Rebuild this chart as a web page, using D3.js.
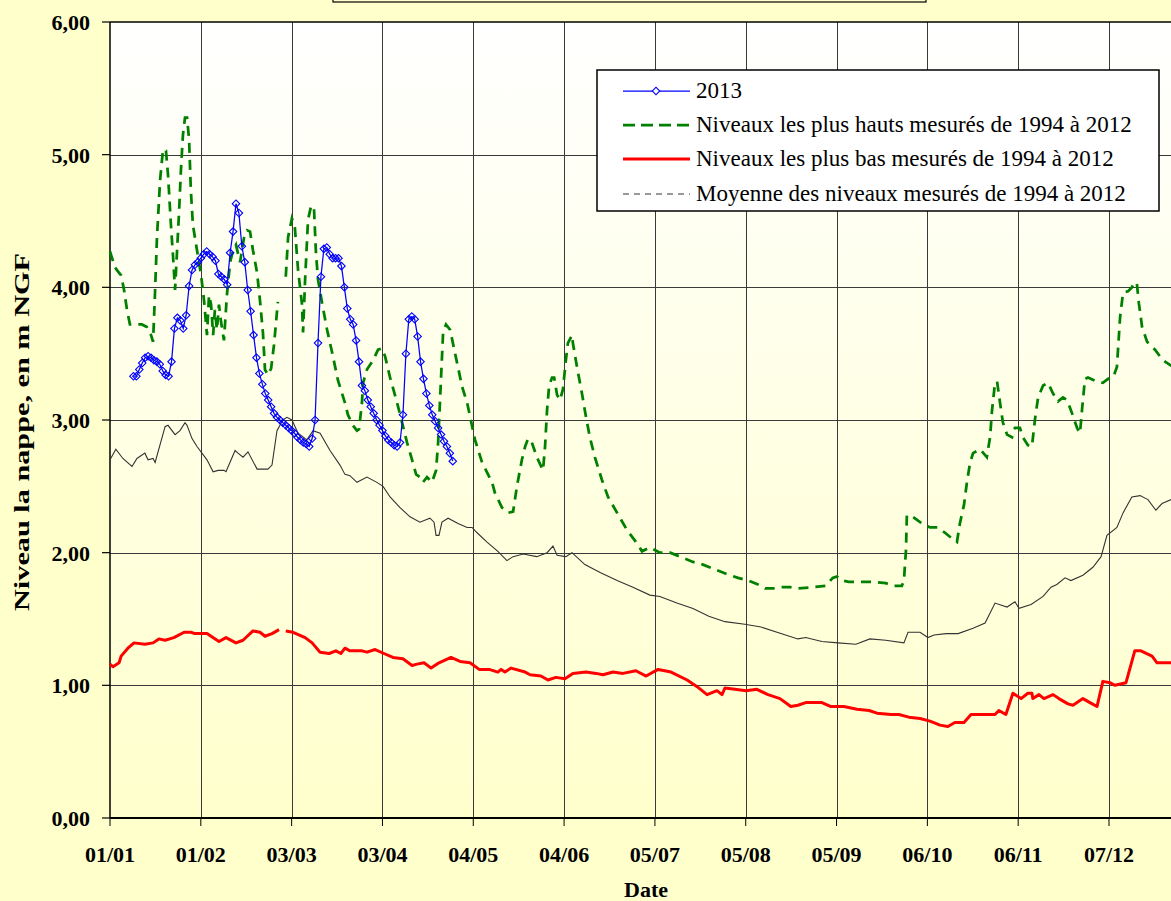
<!DOCTYPE html>
<html>
<head>
<meta charset="utf-8">
<script src="https://cdn.jsdelivr.net/npm/d3@7"></script>
<style>
  html, body { margin: 0; padding: 0; background: #FFFFCC; }
  svg { display: block; }
</style>
</head>
<body>
<svg id="chart" width="1171" height="901"></svg>
<script>
// Axis: days since 1 January of a leap year, major unit 31 days
const tickDays   = [0, 31, 62, 93, 124, 155, 186, 217, 248, 279, 310, 341];
const tickLabels = ["01/01", "01/02", "03/03", "03/04", "04/05", "04/06", "05/07", "05/08", "05/09", "06/10", "06/11", "07/12"];
const yTicks = [0, 1, 2, 3, 4, 5, 6];

const seriesNames = [
  "2013",
  "Niveaux les plus hauts mesurés de 1994 à 2012",
  "Niveaux les plus bas mesurés de 1994 à 2012",
  "Moyenne des niveaux mesurés de 1994 à 2012"
];

// 2013: one value per day, starting on day 8
const start2013 = 8;
const values2013 = [
  3.33, 3.33, 3.38, 3.43, 3.47, 3.48, 3.47, 3.45, 3.44, 3.42, 3.37, 3.34, 3.33, 3.44, 3.69, 3.77,
  3.75, 3.69, 3.79, 4.01, 4.13, 4.17, 4.19, 4.22, 4.25, 4.27, 4.25, 4.23, 4.20, 4.10, 4.08, 4.06,
  4.02, 4.26, 4.42, 4.63, 4.56, 4.31, 4.19, 3.98, 3.82, 3.64, 3.47, 3.35, 3.27, 3.20, 3.15, 3.10,
  3.05, 3.02, 3.00, 2.98, 2.96, 2.94, 2.92, 2.90, 2.87, 2.85, 2.83, 2.82, 2.80, 2.86, 3.00, 3.58,
  4.08, 4.29, 4.30, 4.25, 4.22, 4.22, 4.22, 4.16, 4.00, 3.84, 3.76, 3.72, 3.60, 3.44, 3.26, 3.22,
  3.15, 3.10, 3.05, 3.00, 2.96, 2.92, 2.88, 2.85, 2.83, 2.81, 2.80, 2.83, 3.04, 3.50, 3.76, 3.78,
  3.76, 3.63, 3.44, 3.31, 3.20, 3.11, 3.04, 2.99, 2.94, 2.89, 2.84, 2.80, 2.75, 2.69
];

// [day, level] ; null = no value (29 February)
const highs = [
  [0,4.27],[1.7,4.15],[2.7,4.12],[3.8,4.09],[4.8,3.98],[5.8,3.83],[6.8,3.72],[10.9,3.72],[12.6,3.70],[14,3.64],
  [14.7,3.59],[15.4,3.98],[16,4.36],[17.1,4.81],[18.1,5.04],[19.1,5.03],[19.8,4.85],[20.8,4.47],[21.5,4.24],[22.2,3.98],
  [22.9,4.28],[23.6,4.58],[24.2,4.88],[24.9,5.15],[25.6,5.28],[26.3,5.28],[27,5.11],[27.6,4.73],[28.3,4.47],[29.7,4.28],
  [31.1,4.09],[32.1,3.90],[33.1,3.64],[33.8,3.94],[34.5,3.87],[35.2,3.64],[35.8,3.83],[36.5,3.68],[37.2,3.87],[37.9,3.74],
  [38.9,3.60],[39.9,3.94],[41,4.19],[42,4.28],[43,4.32],[44.4,4.19],[45.7,4.37],[46.8,4.43],[47.8,4.42],[48.8,4.28],
  [50.2,4.11],[51.2,3.90],[52.2,3.66],[52.9,3.38],[53.9,3.34],[55,3.39],[56,3.57],[57.3,3.89],[59,null],[60,4.08],
  [60.8,4.38],[62.1,4.52],[63.1,4.45],[64.2,4.13],[65.5,3.88],[65.9,3.66],[66.6,4.06],[67.6,4.51],[68.6,4.61],[69.6,4.61],
  [70.3,4.26],[71,4.06],[72.4,3.88],[74.1,3.68],[76.1,3.48],[77.8,3.30],[80.2,3.13],[81.2,3.04],[82.9,2.96],[84.3,2.92],
  [85,2.93],[86,3.13],[86.4,3.28],[87.7,3.38],[89.8,3.45],[91.5,3.53],[92.8,3.54],[93.9,3.48],[95.6,3.32],[98,3.13],
  [99.7,2.98],[101.4,2.83],[103.1,2.70],[104.5,2.59],[105.8,2.57],[106.8,2.53],[108.2,2.57],[109.9,2.53],[111.3,2.62],[112,2.83],
  [113,3.32],[113.7,3.66],[114.7,3.72],[116.1,3.68],[117.8,3.50],[120.2,3.25],[121.9,3.13],[124.6,2.85],[127,2.68],[130.4,2.53],
  [131.4,2.45],[133.8,2.34],[135.9,2.30],[137.6,2.31],[138.9,2.50],[140.6,2.70],[141.7,2.80],[142.7,2.86],[144,2.83],[145.7,2.72],
  [147.8,2.62],[148.5,2.80],[149.2,3.08],[149.9,3.26],[150.9,3.32],[151.6,3.32],[152.6,3.19],[153.6,3.15],[154.6,3.23],[155.6,3.45],
  [156.3,3.58],[157.7,3.64],[158,3.58],[159.4,3.40],[161.1,3.20],[162.5,3.02],[163.8,2.87],[165.5,2.72],[167.9,2.55],[170,2.42],
  [173.1,2.30],[176.5,2.17],[179.9,2.07],[181.6,2.01],[184.3,2.04],[187.7,2.00],[191.2,2.00],[194.6,1.97],[199,1.93],[202.4,1.91],
  [205.8,1.88],[209.2,1.85],[211.6,1.83],[214.4,1.81],[217.8,1.79],[221.2,1.76],[223.6,1.73],[226.3,1.73],[228.7,1.74],[232.1,1.74],
  [234.8,1.73],[240,1.74],[244.3,1.75],[246.7,1.81],[248.1,1.82],[249.8,1.79],[252.2,1.78],[256.3,1.78],[259.7,1.78],[264.8,1.77],
  [267.5,1.75],[270.3,1.75],[271,1.79],[271.7,2.02],[272,2.28],[273.4,2.28],[276.5,2.23],[279.9,2.19],[282.6,2.19],[285,2.15],
  [288.4,2.09],[289.1,2.08],[290.1,2.22],[291.5,2.36],[292.5,2.53],[293.6,2.68],[294.6,2.75],[297,2.78],[299.3,2.72],[300.4,2.87],
  [301.1,3.08],[302.1,3.28],[302.8,3.29],[303.8,3.13],[304.8,2.98],[306.2,2.89],[307.9,2.87],[308.9,2.94],[310.6,2.94],[311.6,2.87],
  [313.3,2.81],[314.7,2.80],[315.7,3.00],[316.8,3.17],[318.5,3.26],[320.2,3.28],[321.9,3.20],[323.6,3.14],[325.3,3.17],[326.7,3.15],
  [328.4,3.05],[330.1,2.94],[331.1,2.90],[331.8,3.08],[332.8,3.31],[333.8,3.32],[336.9,3.29],[338.9,3.28],[340.7,3.31],[342.4,3.32],
  [343.7,3.40],[344.8,3.78],[345.8,3.96],[347.5,3.97],[348.8,4.00],[349.9,4.04],[350.5,4.03],[351.2,3.88],[352.3,3.70],[354,3.59],
  [356.7,3.53],[359.4,3.45],[362.2,3.41],[365.9,3.36]
];

const lows = [
  [0,1.16],[1,1.14],[3.1,1.17],[3.8,1.22],[6.1,1.28],[8.2,1.32],[11.9,1.31],[14.7,1.32],[16.7,1.35],[18.8,1.34],
  [21.8,1.36],[25.3,1.40],[27.6,1.40],[29,1.39],[33.1,1.39],[37.2,1.33],[39.6,1.36],[43,1.32],[45.4,1.34],[48.8,1.41],
  [51.2,1.40],[52.9,1.37],[55.3,1.39],[57.7,1.42],[59,null],[60,1.41],[62.5,1.40],[66.6,1.36],[69,1.32],[71.7,1.25],
  [74.8,1.24],[77.1,1.26],[78.8,1.24],[80.2,1.28],[81.9,1.26],[86,1.26],[87.7,1.25],[90.5,1.27],[93.5,1.24],[96.6,1.21],
  [100,1.20],[103.1,1.15],[104.8,1.16],[107.2,1.17],[109.6,1.13],[112.3,1.17],[116.4,1.21],[119.5,1.18],[122.9,1.17],[126,1.12],
  [129.4,1.12],[132.4,1.10],[133.5,1.12],[134.8,1.10],[136.9,1.13],[141.7,1.10],[143.4,1.08],[147.1,1.07],[149.5,1.04],[152.2,1.06],
  [155.3,1.05],[158,1.09],[162.5,1.10],[165.9,1.09],[168.3,1.08],[171.7,1.10],[175.1,1.09],[179.5,1.11],[183,1.07],[187.1,1.12],
  [191.5,1.10],[197,1.04],[200.4,0.99],[203.8,0.93],[207.2,0.96],[208.9,0.93],[209.9,0.98],[213.3,0.97],[217.1,0.96],[220.8,0.97],
  [224.6,0.93],[228.7,0.90],[232.4,0.84],[234.8,0.85],[237.5,0.87],[243,0.87],[246.1,0.84],[250.5,0.84],[255,0.82],[259.1,0.81],
  [261.8,0.79],[266.6,0.78],[269.3,0.78],[272.7,0.76],[276.5,0.75],[279.9,0.73],[283.3,0.70],[286,0.69],[288.4,0.72],[291.5,0.72],
  [293.9,0.78],[302.1,0.78],[303.4,0.81],[305.8,0.78],[308.2,0.94],[311,0.90],[313.3,0.94],[314.7,0.94],[315,0.90],[317.1,0.93],
  [318.8,0.90],[321.9,0.93],[323.9,0.90],[327,0.86],[328.7,0.85],[332.1,0.90],[334.5,0.87],[336.9,0.84],[338.9,1.03],[341.3,1.02],
  [343,1.00],[346.8,1.02],[349.8,1.26],[351.9,1.26],[355.7,1.22],[357.4,1.17],[362.2,1.17],[365.9,1.17]
];

const means = [
  [0,2.70],[2,2.78],[4.4,2.71],[7.5,2.65],[9.2,2.71],[11.9,2.75],[13,2.70],[14.7,2.71],[15.4,2.68],[18.8,2.95],
  [19.8,2.96],[22.2,2.89],[23.9,2.92],[25.6,2.98],[26.3,2.96],[28,2.86],[29.7,2.80],[33.1,2.70],[35.2,2.61],[36.9,2.62],
  [38.9,2.62],[39.6,2.61],[42.7,2.77],[43.7,2.75],[45.4,2.72],[47.1,2.76],[50.2,2.63],[53.9,2.63],[55.3,2.66],[57,2.92],
  [59,3.00],[60.4,3.02],[62.1,3.00],[64.2,2.90],[67.2,2.85],[69.3,2.92],[71.7,2.90],[75.1,2.77],[78.5,2.66],[80.2,2.59],
  [81.9,2.58],[84.3,2.53],[87.7,2.57],[91.1,2.53],[93.2,2.50],[95.6,2.42],[99,2.34],[102.4,2.27],[105.8,2.23],[109.2,2.26],
  [110.6,2.23],[111.3,2.13],[112.3,2.13],[113.3,2.23],[115.4,2.26],[118.8,2.22],[121.9,2.19],[123.6,2.19],[125.3,2.15],[128.7,2.08],
  [132.4,2.01],[135.5,1.94],[137.6,1.97],[141,1.99],[145.7,1.97],[149.2,2.00],[151.2,2.05],[152.6,1.98],[155.6,1.97],[157.7,2.00],
  [162.1,1.91],[167.3,1.85],[173.1,1.79],[178.5,1.74],[184.3,1.68],[187.7,1.67],[193.5,1.62],[199,1.58],[204.4,1.52],[209.9,1.48],
  [216.7,1.46],[222.2,1.44],[229,1.39],[234.8,1.35],[237.5,1.36],[243,1.33],[248.5,1.32],[254.6,1.31],[259.4,1.35],[264.8,1.34],
  [271,1.32],[272.4,1.40],[276.5,1.40],[279.2,1.36],[281.3,1.38],[285.4,1.39],[289.5,1.39],[294.6,1.43],[298.7,1.47],[302.1,1.62],
  [306.2,1.59],[308.9,1.63],[310.3,1.58],[314.4,1.61],[318.5,1.67],[321.2,1.74],[323.2,1.76],[326,1.81],[328,1.79],[332.1,1.83],
  [335.5,1.89],[338.3,1.97],[340.3,2.13],[343.7,2.19],[345.8,2.30],[348.8,2.42],[351.6,2.43],[354.3,2.40],[357,2.32],[359.1,2.37],
  [362.2,2.40],[365.9,2.42]
];

const W = 1171, H = 901;
const pLeft = 110, pTop = 22, pBottom = 818;
const serif = '"Liberation Serif", "Times New Roman", serif';

const svg = d3.select('#chart');

// x: day of year; axis extends past the right edge of the picture
const x = d3.scaleLinear().domain([0, 366]).range([pLeft, pLeft + 366 * 999 / 341]);
const y = d3.scaleLinear().domain([0, 6]).range([pBottom, pTop]);
const fr = d3.formatLocale({ decimal: ',', thousands: ' ', grouping: [3], currency: ['', ' €'] });
const fmtY = fr.format('.2f');

// background gradient of the plot area
const defs = svg.append('defs');
const grad = defs.append('linearGradient').attr('id', 'bg').attr('x1', 0).attr('y1', 0).attr('x2', 0).attr('y2', 1);
grad.append('stop').attr('offset', '0%').attr('stop-color', '#FFFFFF');
grad.append('stop').attr('offset', '100%').attr('stop-color', '#FFFFCC');

svg.append('rect').attr('width', W).attr('height', H).attr('fill', '#FFFFCC');

// title box, mostly outside the picture
svg.append('rect')
  .attr('x', 333).attr('y', -30).attr('width', 593).attr('height', 32)
  .attr('fill', '#FFFFCC').attr('stroke', '#000').attr('stroke-width', 1.2);

svg.append('rect')
  .attr('x', pLeft).attr('y', pTop)
  .attr('width', x.range()[1] - pLeft).attr('height', pBottom - pTop)
  .attr('fill', 'url(#bg)');

// grid
const grid = svg.append('g').attr('stroke', '#3a3a3a').attr('stroke-width', 1).attr('shape-rendering', 'crispEdges');
grid.selectAll('line.v').data(tickDays.slice(1)).join('line')
  .attr('x1', d => Math.round(x(d)) + 0.5).attr('x2', d => Math.round(x(d)) + 0.5)
  .attr('y1', pTop).attr('y2', pBottom);
grid.selectAll('line.h').data(yTicks.filter(v => v > 0 && v < 6)).join('line')
  .attr('x1', pLeft).attr('x2', W)
  .attr('y1', d => Math.round(y(d)) + 0.5).attr('y2', d => Math.round(y(d)) + 0.5);

// frame
svg.append('line').attr('x1', pLeft).attr('x2', W).attr('y1', pTop).attr('y2', pTop)
  .attr('stroke', '#000').attr('stroke-width', 1.5);
svg.append('line').attr('x1', pLeft).attr('x2', pLeft).attr('y1', pTop).attr('y2', pBottom)
  .attr('stroke', '#000').attr('stroke-width', 1.5);

// y axis ticks and labels
const yAx = svg.append('g');
yAx.selectAll('line').data(yTicks).join('line')
  .attr('x1', pLeft - 8).attr('x2', pLeft)
  .attr('y1', d => y(d)).attr('y2', d => y(d))
  .attr('stroke', '#000').attr('stroke-width', 1.2);
yAx.selectAll('text').data(yTicks).join('text')
  .attr('x', 90).attr('y', d => y(d)).attr('dy', '0.36em')
  .attr('text-anchor', 'end')
  .style('font', `bold 22px ${serif}`)
  .text(d => fmtY(d));

// x axis
svg.append('line').attr('x1', pLeft).attr('x2', W).attr('y1', pBottom).attr('y2', pBottom)
  .attr('stroke', '#000').attr('stroke-width', 2);
const xAx = svg.append('g');
xAx.selectAll('line').data(tickDays).join('line')
  .attr('x1', d => x(d)).attr('x2', d => x(d))
  .attr('y1', pBottom).attr('y2', pBottom + 8)
  .attr('stroke', '#000').attr('stroke-width', 1);
xAx.selectAll('text').data(tickDays).join('text')
  .attr('x', d => x(d)).attr('y', 862)
  .attr('text-anchor', 'middle')
  .style('font', `bold 22px ${serif}`)
  .text((d, i) => tickLabels[i]);

svg.append('text').attr('x', 646).attr('y', 897).attr('text-anchor', 'middle')
  .style('font', `bold 22px ${serif}`).text('Date');
svg.append('text')
  .attr('transform', 'translate(29,432) rotate(-90)')
  .attr('text-anchor', 'middle')
  .attr('textLength', 358).attr('lengthAdjust', 'spacingAndGlyphs')
  .style('font', `bold 22px ${serif}`)
  .text('Niveau la nappe, en m NGF');

// series
const plot = svg.append('g');
const line = d3.line().defined(d => d[1] != null).x(d => x(d[0])).y(d => y(d[1]));

plot.append('path').datum(means).attr('d', line)
  .attr('fill', 'none').attr('stroke', '#333').attr('stroke-width', 1.1);
plot.append('path').datum(lows).attr('d', line)
  .attr('fill', 'none').attr('stroke', '#FF0000').attr('stroke-width', 3).attr('stroke-linejoin', 'round');
plot.append('path').datum(highs).attr('d', line)
  .attr('fill', 'none').attr('stroke', '#008000').attr('stroke-width', 2.75).attr('stroke-dasharray', '10,7');

const pts2013 = values2013.map((v, i) => [start2013 + i, v]);
plot.append('path').datum(pts2013).attr('d', line)
  .attr('fill', 'none').attr('stroke', '#0000FF').attr('stroke-width', 1.25);
const diamond = d3.symbol(d3.symbolSquare, 28);
plot.selectAll('path.mk').data(pts2013).join('path')
  .attr('class', 'mk')
  .attr('d', diamond)
  .attr('transform', d => `translate(${x(d[0])},${y(d[1])}) rotate(45)`)
  .attr('fill', 'none').attr('stroke', '#0000FF').attr('stroke-width', 1.1);

// legend
const lg = svg.append('g');
lg.append('rect').attr('x', 597).attr('y', 70).attr('width', 562).attr('height', 141)
  .attr('fill', '#FFFFFF').attr('stroke', '#000').attr('stroke-width', 1.5);
const rows = [91, 125, 159, 194];
const styles = [
  { stroke: '#0000FF', width: 1.25, dash: null },
  { stroke: '#008000', width: 2.75, dash: '12,6' },
  { stroke: '#FF0000', width: 3, dash: null },
  { stroke: '#333', width: 1, dash: '6,5' }
];
seriesNames.forEach((name, i) => {
  const yy = rows[i];
  const s = styles[i];
  const l = lg.append('line').attr('x1', 623).attr('x2', 690).attr('y1', yy).attr('y2', yy)
    .attr('stroke', s.stroke).attr('stroke-width', s.width);
  if (s.dash) l.attr('stroke-dasharray', s.dash);
  if (i === 0) {
    lg.append('path').attr('d', d3.symbol(d3.symbolSquare, 28)())
      .attr('transform', `translate(656,${yy}) rotate(45)`)
      .attr('fill', '#FFFFFF').attr('stroke', '#0000FF').attr('stroke-width', 1.1);
  }
  lg.append('text').attr('x', 696).attr('y', yy + 7)
    .style('font', `23px ${serif}`).text(name);
});
</script>
</body>
</html>
